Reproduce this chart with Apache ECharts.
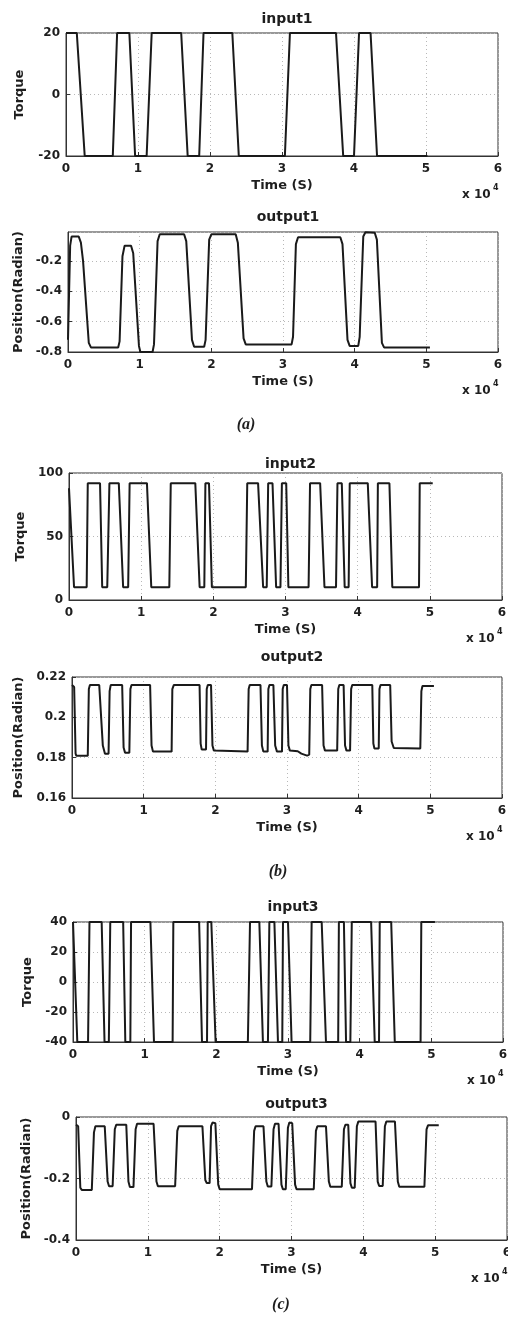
<!DOCTYPE html>
<html><head><meta charset="utf-8">
<script src="https://cdn.jsdelivr.net/npm/echarts@6/dist/echarts.min.js"></script>
<style>html,body{margin:0;padding:0;background:#fff}#c{width:508px;height:1324px}</style>
</head><body><div id="c"></div>
<script>
// Time values are in units of 10^4 s (axis shows "x 10^4")
const panelTitles = ['input1', 'output1', 'input2', 'output2', 'input3', 'output3'];
const yNames = ['Torque', 'Position(Radian)', 'Torque', 'Position(Radian)', 'Torque', 'Position(Radian)'];
const xTickLabels = ['0', '1', '2', '3', '4', '5', '6'];
const captions = ['(a)', '(b)', '(c)'];

const in1T = [0, 0.15, 0.26, 0.65, 0.71, 0.88, 0.96, 1.12, 1.19, 1.60, 1.69, 1.85, 1.91, 2.31, 2.40, 3.04, 3.11, 3.75, 3.85, 4.00, 4.07, 4.23, 4.32, 5.02];
const in1V = [20, 20, -20, -20, 20, 20, -20, -20, 20, 20, -20, -20, 20, 20, -20, -20, 20, 20, -20, -20, 20, 20, -20, -20];

const out1T = [0, 0.03, 0.05, 0.07, 0.15, 0.18, 0.21, 0.29, 0.32, 0.70, 0.72, 0.76, 0.79, 0.88, 0.91, 0.99, 1.01, 1.18, 1.20, 1.25, 1.28, 1.62, 1.65, 1.73, 1.76, 1.90, 1.92, 1.97, 2.00, 2.34, 2.37, 2.45, 2.48, 3.12, 3.14, 3.18, 3.21, 3.80, 3.83, 3.90, 3.93, 4.05, 4.07, 4.12, 4.15, 4.28, 4.31, 4.38, 4.41, 5.05];
const out1V = [-0.72, -0.10, -0.04, -0.035, -0.04, -0.08, -0.20, -0.74, -0.77, -0.77, -0.73, -0.17, -0.10, -0.10, -0.15, -0.76, -0.80, -0.80, -0.75, -0.07, -0.025, -0.025, -0.07, -0.72, -0.765, -0.765, -0.72, -0.06, -0.025, -0.025, -0.08, -0.71, -0.75, -0.75, -0.70, -0.09, -0.045, -0.045, -0.09, -0.72, -0.76, -0.76, -0.70, -0.04, -0.012, -0.015, -0.06, -0.74, -0.77, -0.77];

const in2T = [0, 0.07, 0.245, 0.26, 0.43, 0.46, 0.53, 0.56, 0.69, 0.75, 0.82, 0.84, 1.08, 1.14, 1.39, 1.41, 1.75, 1.81, 1.875, 1.89, 1.94, 1.98, 2.45, 2.47, 2.62, 2.69, 2.74, 2.76, 2.82, 2.87, 2.93, 2.95, 3.01, 3.04, 3.32, 3.34, 3.48, 3.54, 3.70, 3.72, 3.78, 3.82, 3.875, 3.89, 4.14, 4.20, 4.27, 4.28, 4.44, 4.48, 4.85, 4.86, 5.04];
const in2V = [88, 10, 10, 92, 92, 10, 10, 92, 92, 10, 10, 92, 92, 10, 10, 92, 92, 10, 10, 92, 92, 10, 10, 92, 92, 10, 10, 92, 92, 10, 10, 92, 92, 10, 10, 92, 92, 10, 10, 92, 92, 10, 10, 92, 92, 10, 10, 92, 92, 10, 10, 92, 92];

const out2T = [0, 0.03, 0.05, 0.06, 0.22, 0.235, 0.25, 0.38, 0.43, 0.46, 0.51, 0.525, 0.54, 0.70, 0.72, 0.74, 0.80, 0.815, 0.83, 1.09, 1.11, 1.13, 1.39, 1.40, 1.42, 1.78, 1.795, 1.81, 1.87, 1.88, 1.895, 1.94, 1.96, 1.98, 2.45, 2.465, 2.48, 2.63, 2.65, 2.67, 2.73, 2.74, 2.755, 2.81, 2.835, 2.86, 2.93, 2.94, 2.955, 3.00, 3.02, 3.04, 3.15, 3.20, 3.28, 3.31, 3.325, 3.34, 3.49, 3.51, 3.53, 3.70, 3.715, 3.73, 3.79, 3.81, 3.83, 3.88, 3.895, 3.91, 4.19, 4.205, 4.22, 4.28, 4.29, 4.305, 4.44, 4.46, 4.49, 4.86, 4.875, 4.89, 5.05];
const out2V = [0.216, 0.215, 0.182, 0.181, 0.181, 0.214, 0.216, 0.216, 0.186, 0.182, 0.182, 0.213, 0.216, 0.216, 0.185, 0.1825, 0.1825, 0.214, 0.216, 0.216, 0.186, 0.183, 0.183, 0.214, 0.216, 0.216, 0.187, 0.184, 0.184, 0.214, 0.216, 0.216, 0.186, 0.1835, 0.183, 0.214, 0.216, 0.216, 0.186, 0.183, 0.183, 0.214, 0.216, 0.216, 0.186, 0.183, 0.183, 0.214, 0.216, 0.216, 0.186, 0.1835, 0.1832, 0.182, 0.181, 0.1815, 0.214, 0.216, 0.216, 0.186, 0.1835, 0.1835, 0.214, 0.216, 0.216, 0.186, 0.1835, 0.1835, 0.214, 0.216, 0.216, 0.187, 0.1845, 0.1845, 0.214, 0.216, 0.216, 0.188, 0.1848, 0.1845, 0.213, 0.2155, 0.2155];

const in3T = [0, 0.06, 0.21, 0.23, 0.40, 0.44, 0.50, 0.52, 0.70, 0.73, 0.80, 0.81, 1.08, 1.13, 1.39, 1.40, 1.76, 1.80, 1.87, 1.88, 1.93, 1.99, 2.44, 2.47, 2.60, 2.65, 2.72, 2.74, 2.81, 2.86, 2.92, 2.93, 3.00, 3.05, 3.31, 3.33, 3.47, 3.53, 3.70, 3.71, 3.78, 3.81, 3.87, 3.89, 4.16, 4.21, 4.27, 4.28, 4.44, 4.49, 4.85, 4.86, 5.05];
const in3V = [40, -40, -40, 40, 40, -40, -40, 40, 40, -40, -40, 40, 40, -40, -40, 40, 40, -40, -40, 40, 40, -40, -40, 40, 40, -40, -40, 40, 40, -40, -40, 40, 40, -40, -40, 40, 40, -40, -40, 40, 40, -40, -40, 40, 40, -40, -40, 40, 40, -40, -40, 40, 40];

const out3T = [0, 0.03, 0.06, 0.08, 0.22, 0.25, 0.27, 0.40, 0.44, 0.46, 0.51, 0.54, 0.56, 0.70, 0.73, 0.75, 0.80, 0.83, 0.85, 1.08, 1.12, 1.14, 1.38, 1.41, 1.43, 1.76, 1.80, 1.82, 1.86, 1.88, 1.90, 1.94, 1.98, 2.00, 2.45, 2.48, 2.50, 2.61, 2.65, 2.67, 2.72, 2.75, 2.77, 2.82, 2.86, 2.88, 2.92, 2.95, 2.97, 3.01, 3.05, 3.07, 3.31, 3.34, 3.36, 3.48, 3.52, 3.54, 3.70, 3.73, 3.75, 3.79, 3.82, 3.84, 3.88, 3.91, 3.93, 4.17, 4.20, 4.22, 4.27, 4.30, 4.32, 4.44, 4.48, 4.50, 4.85, 4.88, 4.90, 5.05];
const out3V = [-0.025, -0.03, -0.23, -0.237, -0.237, -0.05, -0.03, -0.03, -0.21, -0.225, -0.225, -0.04, -0.025, -0.025, -0.21, -0.228, -0.228, -0.04, -0.022, -0.022, -0.21, -0.225, -0.225, -0.045, -0.03, -0.03, -0.205, -0.215, -0.215, -0.03, -0.018, -0.02, -0.22, -0.235, -0.235, -0.045, -0.03, -0.03, -0.21, -0.226, -0.226, -0.04, -0.022, -0.022, -0.22, -0.235, -0.235, -0.035, -0.018, -0.02, -0.22, -0.235, -0.235, -0.045, -0.03, -0.03, -0.21, -0.227, -0.227, -0.04, -0.025, -0.025, -0.215, -0.23, -0.23, -0.03, -0.015, -0.015, -0.21, -0.224, -0.224, -0.03, -0.015, -0.015, -0.21, -0.227, -0.227, -0.04, -0.027, -0.027];

const yMin = [-20, -0.8, 0, 0.16, -40, -0.4];
const yMax = [20, -0.01, 100, 0.22, 40, 0];
const yInterval = [20, 0.2, 50, 0.02, 20, 0.2];

const seriesT = [in1T, out1T, in2T, out2T, in3T, out3T];
const seriesV = [in1V, out1V, in2V, out2V, in3V, out3V];

// layout (pixels)
const layout = [
  {left: 66, top: 33, width: 432, height: 123, titleY: 7,   nameGap: 40},
  {left: 68, top: 232, width: 430, height: 120, titleY: 205, nameGap: 41},
  {left: 69, top: 473, width: 433, height: 127, titleY: 452, nameGap: 37},
  {left: 72, top: 677, width: 430, height: 121, titleY: 645, nameGap: 40},
  {left: 73, top: 922, width: 430, height: 120, titleY: 895, nameGap: 38},
  {left: 76, top: 1117, width: 431, height: 123, titleY: 1092, nameGap: 41}
];
const captionPos = [[246, 425], [278, 872], [281, 1305]];

const FONT = 'DejaVu Sans';
const TXT = '#1e1e1e';

const chart = echarts.init(document.getElementById('c'), null, {renderer: 'canvas'});

const grids = [], xAxes = [], yAxes = [], series = [], titles = [], graphics = [];
for (let i = 0; i < 6; i++) {
  const L = layout[i];
  grids.push({left: L.left, top: L.top, width: L.width, height: L.height, containLabel: false, outerBoundsMode: 'none',
    show: true, borderColor: '#333', borderWidth: 1, backgroundColor: 'transparent'});
  xAxes.push({
    type: 'value', gridIndex: i, min: 0, max: 6, interval: 1,
    name: 'Time (S)', nameLocation: 'middle', nameGap: 23,
    nameTextStyle: {fontFamily: FONT, fontWeight: 'bold', fontSize: 13, color: TXT},
    axisLine: {show: true, onZero: false, lineStyle: {color: '#333', width: 1}},
    axisTick: {show: true, inside: true, length: 4, lineStyle: {color: '#333'}},
    axisLabel: {margin: 7, fontFamily: FONT, fontWeight: 'bold', fontSize: 12, color: TXT,
      formatter: v => xTickLabels[Math.round(v)]},
    splitLine: {show: true, lineStyle: {type: [1, 3], color: '#b8b8b8', width: 1}}
  });
  yAxes.push({
    type: 'value', gridIndex: i, min: yMin[i], max: yMax[i], interval: yInterval[i],
    name: yNames[i], nameLocation: 'middle', nameGap: L.nameGap, nameRotate: 90,
    nameTextStyle: {fontFamily: FONT, fontWeight: 'bold', fontSize: 13, color: TXT},
    axisLine: {show: true, onZero: false, lineStyle: {color: '#333', width: 1}},
    axisTick: {show: true, inside: true, length: 4, lineStyle: {color: '#333'}},
    axisLabel: {margin: 6, fontFamily: FONT, fontWeight: 'bold', fontSize: 12, color: TXT,
      showMaxLabel: i !== 1},
    splitLine: {show: true, lineStyle: {type: [1, 3], color: '#b8b8b8', width: 1}}
  });
  const data = seriesT[i].map((t, k) => [t, seriesV[i][k]]);
  series.push({type: 'line', xAxisIndex: i, yAxisIndex: i, data, symbol: 'none', smooth: false,
    lineStyle: {color: '#1a1a1a', width: 2}, animation: false, clip: true});
  titles.push({text: panelTitles[i], left: L.left + L.width / 2, top: L.titleY, textAlign: 'center',
    textStyle: {fontFamily: FONT, fontWeight: 'bold', fontSize: 14, color: TXT}});
  // "x 10^4" exponent label
  const bx = L.left + L.width - 6, by = L.top + L.height + 40;
  graphics.push({type: 'text', left: bx - 30, top: by - 7, style: {text: 'x 10', fontFamily: FONT, fontWeight: 'bold', fontSize: 12, fill: TXT}});
  graphics.push({type: 'text', left: bx + 1, top: by - 12, style: {text: '4', fontFamily: FONT, fontWeight: 'bold', fontSize: 8, fill: TXT}});
}
for (let j = 0; j < 3; j++) {
  graphics.push({type: 'text', x: captionPos[j][0], y: captionPos[j][1],
    style: {text: captions[j], fontFamily: 'Liberation Serif', fontStyle: 'italic', fontWeight: 'bold', fontSize: 16,
      fill: TXT, align: 'center', verticalAlign: 'middle'}});
}

chart.setOption({
  backgroundColor: '#ffffff',
  animation: false,
  title: titles,
  grid: grids,
  xAxis: xAxes,
  yAxis: yAxes,
  series: series,
  graphic: graphics
});
</script>
</body></html>
